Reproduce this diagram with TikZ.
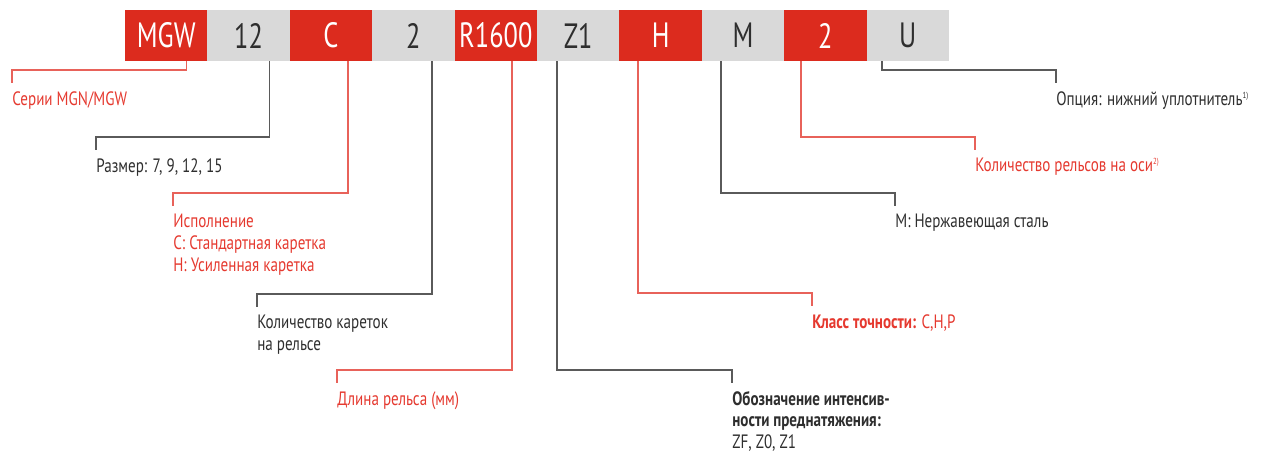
\documentclass[tikz,border=0pt]{standalone}
\usepackage{fontspec}
\setmainfont{PT Sans}[FakeStretch=0.78]
\newfontfamily\boxfont{PT Sans}[FakeStretch=0.75]
\usetikzlibrary{calc}
\definecolor{codered}{HTML}{DC2B1E}
\definecolor{codegray}{HTML}{D9D9D9}
\definecolor{txtred}{HTML}{E5392F}
\definecolor{txtdark}{HTML}{2E2E2E}
\definecolor{lnred}{HTML}{E8625A}
\definecolor{lngray}{HTML}{5A5A5A}
\tikzset{
	codebox/.style={minimum width=1.648cm, minimum height=1.02cm, inner sep=0pt, font=\boxfont\fontsize{20}{20}\selectfont},
	redbox/.style={codebox, fill=codered, text=white},
	graybox/.style={codebox, fill=codegray, text=txtdark},
	lbl/.style={anchor=north west, inner xsep=0pt, inner ysep=4.5pt, align=left, font=\fontsize{11}{12.3}\selectfont},
	redlbl/.style={lbl, text=txtred},
	graylbl/.style={lbl, text=txtdark},
	redln/.style={draw=lnred, line width=0.6pt},
	grayln/.style={draw=lngray, line width=0.6pt}
}

\begin{document}
\begin{tikzpicture}[x=0.02cm, y=-0.02cm]
			%%%%% START %%%%%
			\useasboundingbox (0, 0) rectangle (1275, 453);
			
			\node[redbox] (mgw) at (166.2, 35.5) {MGW};
			\node[graybox] (size) at (248.6, 35.5) {12};
			\node[redbox] (type) at (331, 35.5) {C};
			\node[graybox] (blocks) at (413.4, 35.5) {2};
			\node[redbox] (rail) at (495.8, 35.5) {R1600};
			\node[graybox] (preload) at (578.2, 35.5) {Z1};
			\node[redbox] (accur) at (660.6, 35.5) {H};
			\node[graybox] (steel) at (743, 35.5) {M};
			\node[redbox] (axis) at (825.4, 35.5) {2};
			\node[graybox] (seal) at (907.8, 35.5) {U};
			
			\node[redlbl] (mgwtxt) at (12, 83) {Серии MGN/MGW};
			\node[graylbl] (sizetxt) at (96, 150) {Размер: 7, 9, 12, 15};
			\node[redlbl] (typetxt) at (173, 206) {Исполнение\\C: Стандартная каретка\\H: Усиленная каретка};
			\node[graylbl] (blockstxt) at (257, 307) {Количество кареток\\на рельсе};
			\node[redlbl] (railtxt) at (337, 383) {Длина рельса (мм)};
			\node[graylbl] (preloadtxt) at (732, 383) {\textbf{Обозначение интенсив-}\\\textbf{ности преднатяжения:}\\ZF, Z0, Z1};
			\node[redlbl] (accurtxt) at (812, 306) {\textbf{Класс точности:} C,H,P};
			\node[graylbl] (steeltxt) at (895, 206) {M: Нержавеющая сталь};
			\node[redlbl] (axistxt) at (975, 150) {Количество рельсов на оси\textsuperscript{\tiny 2)}};
			\node[graylbl] (sealtxt) at (1056, 83) {Опция: нижний уплотнитель\textsuperscript{\tiny 1)}};
			
			\draw[redln] ($(mgw.south)+(20, 0)$) |- ($(mgwtxt.north west)+(0, -13)$) -- (mgwtxt.north west);
			\draw[grayln] ($(size.south)+(21, 0)$) |- ($(sizetxt.north west)+(0, -13)$) -- (sizetxt.north west);
			\draw[redln] ($(type.south)+(17, 0)$) |- ($(typetxt.north west)+(0, -13)$) -- (typetxt.north west);
			\draw[grayln] ($(blocks.south)+(18.6, 0)$) |- ($(blockstxt.north west)+(0, -13)$) -- (blockstxt.north west);
			\draw[redln] ($(rail.south)+(16.2, 0)$) |- ($(railtxt.north west)+(0, -13)$) -- (railtxt.north west);
			\draw[grayln] ($(preload.south)+(-21.2, 0)$) |- ($(preloadtxt.north west)+(0, -13)$) -- (preloadtxt.north west);
			\draw[redln] ($(accur.south)+(-22.6, 0)$) |- ($(accurtxt.north west)+(0, -13)$) -- (accurtxt.north west);
			\draw[grayln] ($(steel.south)+(-22, 0)$) |- ($(steeltxt.north west)+(0, -13)$) -- (steeltxt.north west);
			\draw[redln] ($(axis.south)+(-24.4, 0)$) |- ($(axistxt.north west)+(0, -13)$) -- (axistxt.north west);
			\draw[grayln] ($(seal.south)+(-25.8, 0)$) |- ($(sealtxt.north west)+(0, -13)$) -- (sealtxt.north west);
			
			%%%%% END %%%%%
\end{tikzpicture}
\end{document}
